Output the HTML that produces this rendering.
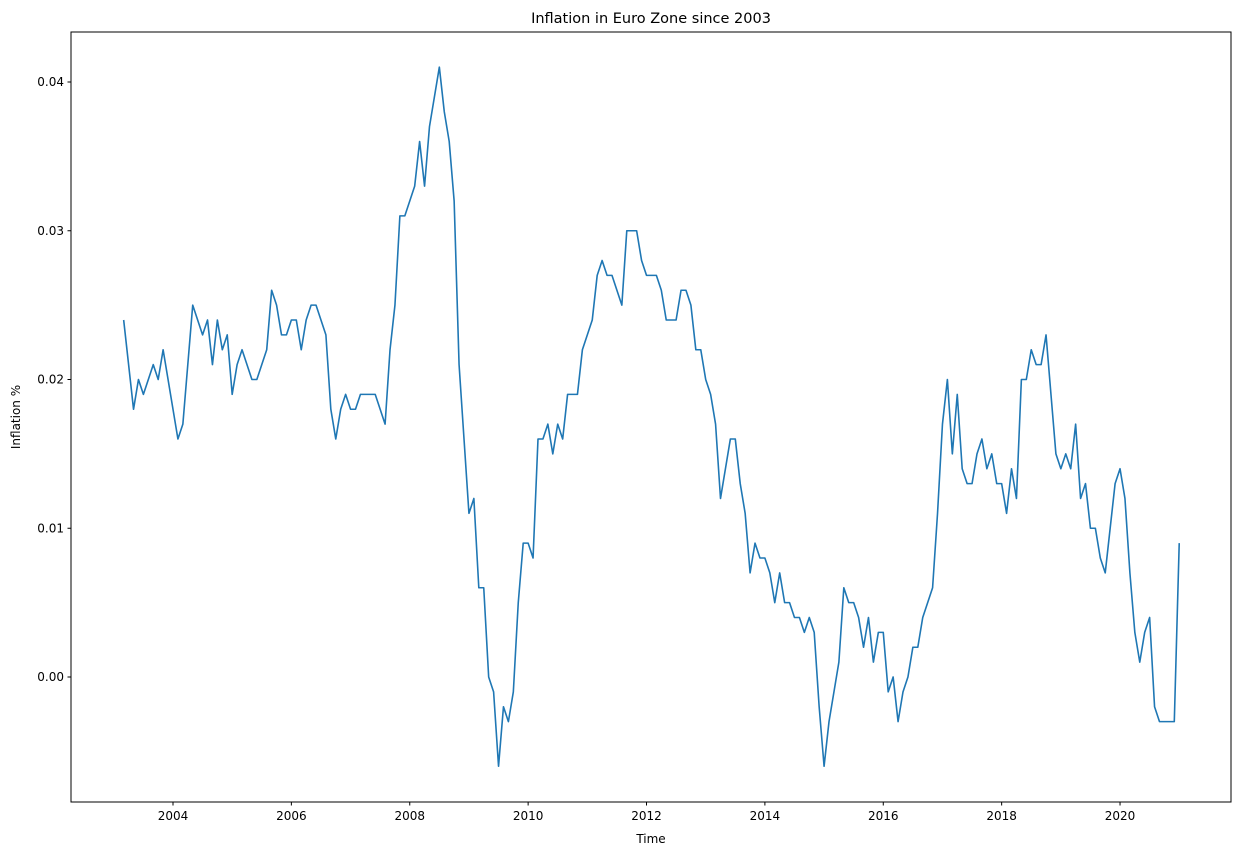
<!DOCTYPE html>
<html><head><meta charset="utf-8"><style>
body{margin:0;background:#fff;}
svg text{font-family:"DejaVu Sans","Liberation Sans",sans-serif;fill:#000;}
</style></head><body>
<svg id="chart" width="1242" height="855" xmlns="http://www.w3.org/2000/svg">
<rect width="1242" height="855" fill="#fff"/>
<text x="651" y="23" font-size="14.5" text-anchor="middle">Inflation in Euro Zone since 2003</text>
<g id="grid"></g>
<path id="series" fill="none" stroke="#1f77b4" stroke-width="1.6" stroke-linejoin="round"/>
<rect x="71" y="32" width="1160" height="770" fill="none" stroke="#000" stroke-width="1"/>
<text x="651" y="843" font-size="12" text-anchor="middle">Time</text>
<text transform="translate(20,417) rotate(-90)" font-size="12" text-anchor="middle">Inflation %</text>
</svg>
<script>
const startYear = 2003;
const startMonth = 3;
const inflationValues = [
.024,.021,.018,.020,.019,.020,.021,.020,.022,.020,
.018,.016,.017,.021,.025,.024,.023,.024,.021,.024,.022,.023,
.019,.021,.022,.021,.020,.020,.021,.022,.026,.025,.023,.023,
.024,.024,.022,.024,.025,.025,.024,.023,.018,.016,.018,.019,
.018,.018,.019,.019,.019,.019,.018,.017,
.022,.025,.031,.031,.032,.033,.036,.033,.037,.039,.041,.038,.036,.032,.021,.016,.011,.012,.006,.006,
.000,-.001,-.006,-.002,-.003,-.001,.005,.009,.009,.008,.016,.016,.017,.015,.017,.016,
.019,.019,.019,.022,.023,.024,.027,.028,.027,.027,.026,.025,.030,.030,.030,.028,.027,.027,.027,.026,
.024,.024,.024,.026,.026,.025,.022,.022,.020,.019,.017,.012,.014,.016,.016,.013,.011,.007,.009,.008,
.008,.007,.005,.007,.005,.005,.004,.004,.003,.004,.003,-.002,-.006,-.003,-.001,.001,.006,.005,.005,.004,
.002,.004,.001,.003,.003,-.001,.000,-.003,-.001,.000,.002,.002,.004,.005,.006,
.011,.017,.020,.015,.019,.014,.013,.013,.015,.016,.014,.015,.013,.013,.011,.014,.012,.020,.020,.022,
.021,.021,.023,.019,.015,.014,.015,.014,.017,.012,.013,.010,.010,.008,.007,.010,.013,.014,.012,.007,
.003,.001,.003,.004,-.002,-.003,-.003,-.003,-.003,.009
];
const xTickYears = [2004,2006,2008,2010,2012,2014,2016,2018,2020];
const yTickValues = [0.00,0.01,0.02,0.03,0.04];
const yTickLabels = ["0.00","0.01","0.02","0.03","0.04"];

function xScale(t){ return 113.8 + (t - 2003) * 59.19; }
function yScale(v){ return 677 - v * 14875; }

const NS = "http://www.w3.org/2000/svg";
const svg = document.getElementById('chart');
const g = document.getElementById('grid');

let d = "";
inflationValues.forEach((v, i) => {
  const m = startMonth - 1 + i;
  const t = startYear + m / 12;
  d += (i ? "L" : "M") + xScale(t).toFixed(2) + "," + yScale(v).toFixed(2);
});
document.getElementById('series').setAttribute('d', d);

xTickYears.forEach(yr => {
  const x = xScale(yr);
  const ln = document.createElementNS(NS, 'line');
  
  
  ln.setAttribute('x1', x); ln.setAttribute('x2', x);
  ln.setAttribute('y1', 802); ln.setAttribute('y2', 805.5);
  ln.setAttribute('stroke', '#000');
  g.appendChild(ln);
  const tx = document.createElementNS(NS, 'text');
  
  
  tx.setAttribute('x', x); tx.setAttribute('y', 820);
  tx.setAttribute('font-size', '12');
  tx.setAttribute('text-anchor', 'middle');
  tx.textContent = yr;
  g.appendChild(tx);
});

yTickValues.forEach((v, i) => {
  const y = yScale(v);
  const ln = document.createElementNS(NS, 'line');
  
  
  ln.setAttribute('x1', 67.5); ln.setAttribute('x2', 71);
  ln.setAttribute('y1', y); ln.setAttribute('y2', y);
  ln.setAttribute('stroke', '#000');
  g.appendChild(ln);
  const tx = document.createElementNS(NS, 'text');
  
  
  tx.setAttribute('x', 64); tx.setAttribute('y', y + 4);
  tx.setAttribute('font-size', '12');
  tx.setAttribute('text-anchor', 'end');
  tx.textContent = yTickLabels[i];
  g.appendChild(tx);
});
</script>
</body></html>
